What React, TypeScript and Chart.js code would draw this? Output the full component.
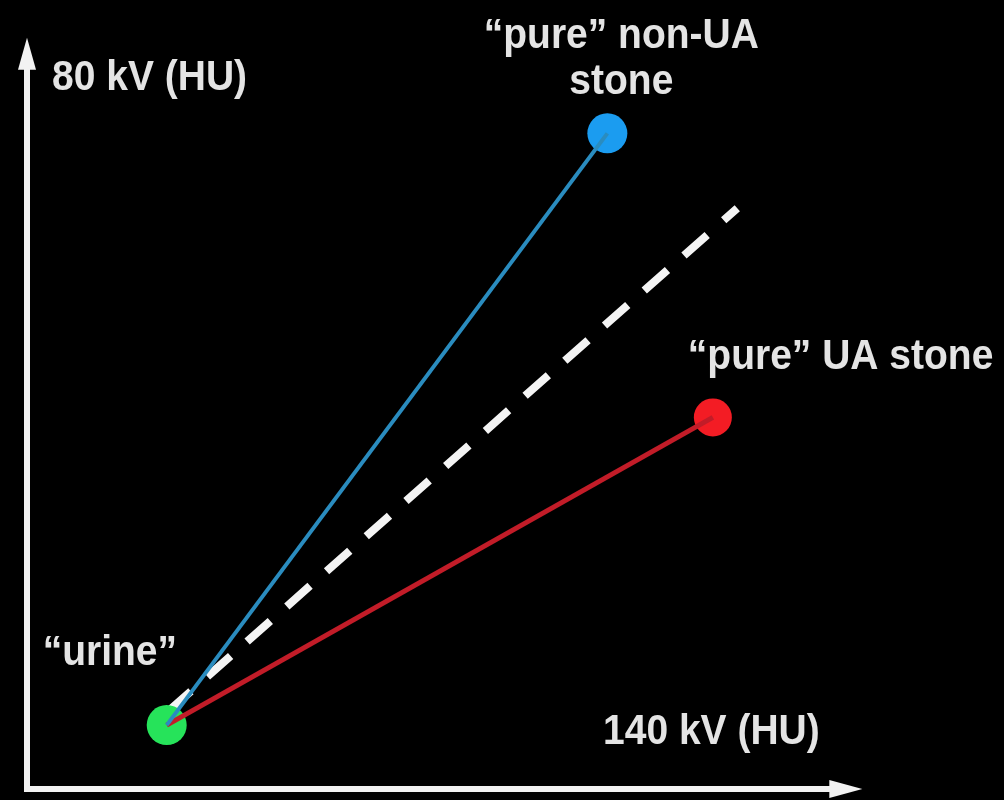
import React, { useEffect, useRef } from "react";
import { Chart, registerables } from "chart.js";

Chart.register(...registerables);

// Dual-energy CT schematic: 140 kV HU (x) vs 80 kV HU (y), arbitrary units 0..100
const pointNames = ["“urine”", "“pure” non-UA stone", "“pure” UA stone"];
const urinePoint = { x: 14.3, y: 8.1 };
const nonUAPoint = { x: 59.4, y: 83.1 };
const uaPoint = { x: 70.2, y: 47.1 };
const dividerLine = [
  { x: 14.4, y: 9.8 },
  { x: 72.7, y: 73.6 },
];
const xAxisTitle = "140 kV (HU)";
const yAxisTitle = "80 kV (HU)";
const xAxisEnd = 85.5;
const yAxisEnd = 95.2;

const FONT = "bold 39px 'Liberation Sans', Arial, sans-serif";
const TEXT_COLOR = "#e4e4e4";

const decorPlugin = {
  id: "decor",
  beforeDatasetsDraw(chart: any) {
    const { ctx, scales } = chart;
    const xs = scales.x;
    const ys = scales.y;
    const x0 = xs.getPixelForValue(0);
    const y0 = ys.getPixelForValue(0);
    const xEnd = xs.getPixelForValue(xAxisEnd);
    const yEnd = ys.getPixelForValue(yAxisEnd);
    ctx.save();
    ctx.strokeStyle = "#f2f2f2";
    ctx.fillStyle = "#f2f2f2";
    ctx.lineWidth = 6;
    ctx.lineCap = "square";
    ctx.beginPath();
    ctx.moveTo(x0, yEnd + 24);
    ctx.lineTo(x0, y0);
    ctx.lineTo(xEnd - 24, y0);
    ctx.stroke();
    // y arrowhead
    ctx.beginPath();
    ctx.moveTo(x0, yEnd);
    ctx.lineTo(x0 - 9, yEnd + 32);
    ctx.lineTo(x0 + 9, yEnd + 32);
    ctx.closePath();
    ctx.fill();
    // x arrowhead
    ctx.beginPath();
    ctx.moveTo(xEnd, y0);
    ctx.lineTo(xEnd - 33, y0 - 9);
    ctx.lineTo(xEnd - 33, y0 + 9);
    ctx.closePath();
    ctx.fill();
    ctx.restore();
  },
  afterDatasetsDraw(chart: any) {
    const { ctx, scales } = chart;
    const xs = scales.x;
    const ys = scales.y;
    const x0 = xs.getPixelForValue(0);
    const y0 = ys.getPixelForValue(0);
    const yEnd = ys.getPixelForValue(yAxisEnd);
    const text = (s: string, x: number, y: number, align: CanvasTextAlign) => {
      ctx.save();
      ctx.translate(x, y);
      ctx.scale(1, 1.1);
      ctx.textAlign = align;
      ctx.textBaseline = "alphabetic";
      ctx.fillText(s, 0, 0);
      ctx.restore();
    };
    ctx.save();
    ctx.font = FONT;
    ctx.fillStyle = TEXT_COLOR;
    // axis titles
    text(yAxisTitle, x0 + 25, yEnd + 52, "left");
    text(xAxisTitle, x0 + 576, y0 - 45, "left");
    // point labels
    const g = { x: xs.getPixelForValue(urinePoint.x), y: ys.getPixelForValue(urinePoint.y) };
    const b = { x: xs.getPixelForValue(nonUAPoint.x), y: ys.getPixelForValue(nonUAPoint.y) };
    const r = { x: xs.getPixelForValue(uaPoint.x), y: ys.getPixelForValue(uaPoint.y) };
    text(pointNames[0], g.x - 124, g.y - 60, "left");
    text("“pure” non-UA", b.x + 14, b.y - 85, "center");
    text("stone", b.x + 14, b.y - 39, "center");
    text(pointNames[2], r.x - 25, r.y - 48, "left");
    ctx.restore();
  },
};

export default function App() {
  const ref = useRef<HTMLCanvasElement>(null);
  useEffect(() => {
    document.body.style.margin = "0";
    document.body.style.background = "#000";
    const chart = new Chart(ref.current!, {
      type: "scatter",
      data: {
        datasets: [
          {
            data: [urinePoint, nonUAPoint],
            showLine: true,
            borderColor: "#2a8cbf",
            borderWidth: 4,
            pointRadius: 0,
          },
          {
            data: [urinePoint, uaPoint],
            showLine: true,
            borderColor: "#c21c28",
            borderWidth: 5,
            pointRadius: 0,
          },
          {
            data: [nonUAPoint],
            pointRadius: 20,
            pointBackgroundColor: "#1b9cf0",
            pointBorderWidth: 0,
          },
          {
            data: [uaPoint],
            pointRadius: 19,
            pointBackgroundColor: "#f31c24",
            pointBorderWidth: 0,
          },
          {
            data: [urinePoint],
            pointRadius: 20,
            pointBackgroundColor: "#26e35a",
            pointBorderWidth: 0,
          },
          {
            data: dividerLine,
            showLine: true,
            borderColor: "#f4f4f4",
            borderWidth: 8,
            borderDash: [31, 22],
            borderCapStyle: "butt",
            pointRadius: 0,
          },
        ],
      },
      options: {
        animation: false,
        responsive: true,
        maintainAspectRatio: false,
        layout: { autoPadding: false, padding: { left: 27, bottom: 11, top: 0, right: 0 } },
        plugins: { legend: { display: false }, tooltip: { enabled: false } },
        scales: {
          x: { type: "linear", min: 0, max: 100, display: false },
          y: { type: "linear", min: 0, max: 100, display: false },
        },
      },
      plugins: [decorPlugin],
    });
    return () => chart.destroy();
  }, []);
  return (
    <div style={{ width: 1004, height: 800, background: "#000", position: "relative" }}>
      <canvas ref={ref} />
    </div>
  );
}
